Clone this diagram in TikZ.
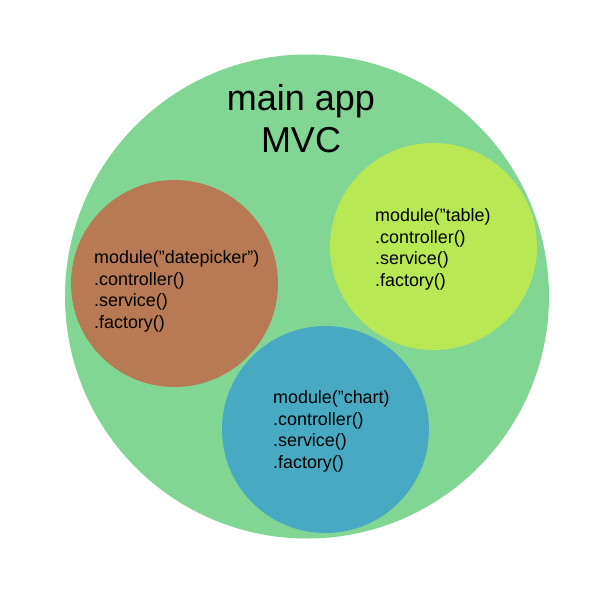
\documentclass[tikz,border=0pt]{standalone}
\usepackage{fontspec}
\setmainfont{Liberation Sans}
\definecolor{appgreen}{RGB}{130,214,148}
\definecolor{dpbrown}{RGB}{184,122,84}
\definecolor{tblime}{RGB}{184,232,84}
\definecolor{chblue}{RGB}{72,170,194}
\tikzset{
  modcircle/.style={circle, inner sep=0pt, minimum size=207pt, draw=none},
  modtext/.style={inner sep=0pt, anchor=west, align=left, font=\fontsize{17.9}{21.5}\selectfont},
  titletext/.style={inner sep=0pt, align=center, font=\fontsize{36}{42}\selectfont}
}
\begin{document}
\begin{tikzpicture}[x=1pt,y=-1pt]
\useasboundingbox[fill=white] (0,0) rectangle (600,600);
\node[circle, inner sep=0pt, minimum size=484pt, fill=appgreen] (app) at (307,296.5) {};
\node[titletext] (title) at (301,118.4) {main app\\MVC};
\node[modcircle, fill=dpbrown] (dp) at (174.5,283.5) {};
\node[modcircle, fill=tblime] (tb) at (433.5,246.5) {};
\node[modcircle, fill=chblue] (ch) at (325.5,429.5) {};
\node[modtext] (dptext) at (94,291.5) {module(”datepicker”)\\.controller()\\.service()\\.factory()};
\node[modtext] (tbtext) at (375,249.5) {module(”table)\\.controller()\\.service()\\.factory()};
\node[modtext] (chtext) at (273,431.5) {module(”chart)\\.controller()\\.service()\\.factory()};
\end{tikzpicture}
\end{document}
